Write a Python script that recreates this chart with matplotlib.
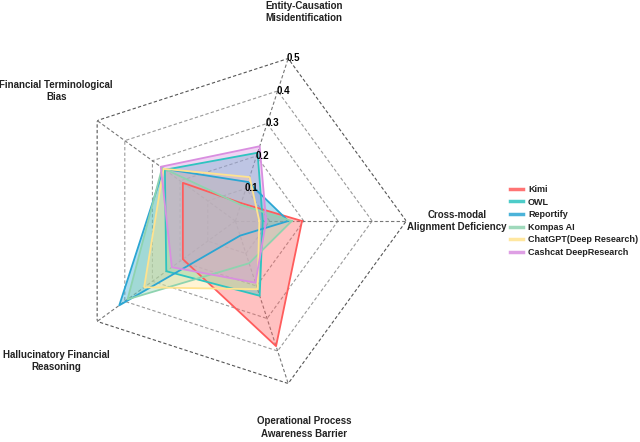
import numpy as np
import matplotlib
matplotlib.use("Agg")
import matplotlib.pyplot as plt
from matplotlib.lines import Line2D

plt.rcParams['font.family'] = ['Liberation Sans', 'DejaVu Sans']

categories = ["Cross-modal\nAlignment Deficiency",
              "Entity-Causation\nMisidentification",
              "Financial Terminological\nBias",
              "Hallucinatory Financial\nReasoning",
              "Operational Process\nAwareness Barrier"]

models = ["Kimi", "OWL", "Reportify", "Kompas AI", "ChatGPT(Deep Research)", "Cashcat DeepResearch"]
kimi      = [0.195, 0.055, 0.19, 0.19, 0.385]
owl       = [0.08, 0.21, 0.255, 0.25, 0.23]
reportify = [0.155, 0.12, 0.26, 0.42, 0.045]
kompas    = [0.165, 0.05, 0.265, 0.39, 0.13]
chatgpt   = [0.07, 0.135, 0.26, 0.33, 0.21]
cashcat   = [0.09, 0.23, 0.27, 0.23, 0.19]
series = [kimi, owl, reportify, kompas, chatgpt, cashcat]
colors = ["#FF5C5C", "#2EC4C0", "#2BA6D3", "#8ED3AF", "#FFE38F", "#D98EE0"]

ticks = [0.1, 0.2, 0.3, 0.4, 0.5]
rmax = 0.5

fig = plt.figure(figsize=(6.4, 4.42), dpi=100)
ax = fig.add_axes([0.1008, 0.1131, 0.534, 0.7738], projection='polar')
ax.set_ylim(0, rmax)
ax.set_xticks([])
ax.set_yticks([])
ax.grid(False)
ax.spines['polar'].set_visible(False)
ax.patch.set_alpha(0)

n = len(categories)
angles = np.arange(n) * 2 * np.pi / n
closed = np.concatenate([angles, angles[:1]])

# pentagon grid rings
for t in ticks:
    col = "#555555" if t == rmax else "#9a9a9a"
    ax.plot(closed, [t] * (n + 1), color=col, lw=0.8, ls=(0, (3, 2)), zorder=1)
# spokes
for a in angles:
    ax.plot([a, a], [0, rmax], color="#777777", lw=0.8, ls=(0, (3, 2)), zorder=1)

# data
for vals, c, name in zip(series, colors, models):
    v = list(vals) + [vals[0]]
    ax.fill(closed, v, color=c, alpha=0.38, zorder=2, lw=0)
    ax.plot(closed, v, color=c, lw=1.3, zorder=3)

# radial tick labels on Entity axis
for t in ticks:
    ax.annotate(f"{t:.1f}", xy=(angles[1], t), xytext=(-1, 0), textcoords='offset points',
                ha='left', va='center', fontsize=7, fontweight='bold', color='black', zorder=5)

# category labels
offsets = [(0, 0), (0, -1), (0, 0), (0, -7), (0, 3)]
for a, lab, off in zip(angles, categories, offsets):
    ax.annotate(lab, xy=(a, 0.648), xytext=off, textcoords='offset points',
                ha='center', va='center', fontsize=7, fontweight='bold',
                color='#222222', linespacing=1.3, annotation_clip=False)

handles = [Line2D([0], [0], color=c, lw=2.5, alpha=0.85) for c in colors]
fig.legend(handles, models, loc='upper left', bbox_to_anchor=(0.784, 0.6), frameon=False,
           prop={'size': 6.5, 'weight': 'bold'}, handlelength=1.4, handletextpad=0.6,
           labelspacing=0.4, labelcolor='#222222')

fig.savefig("out.png", dpi=100)
